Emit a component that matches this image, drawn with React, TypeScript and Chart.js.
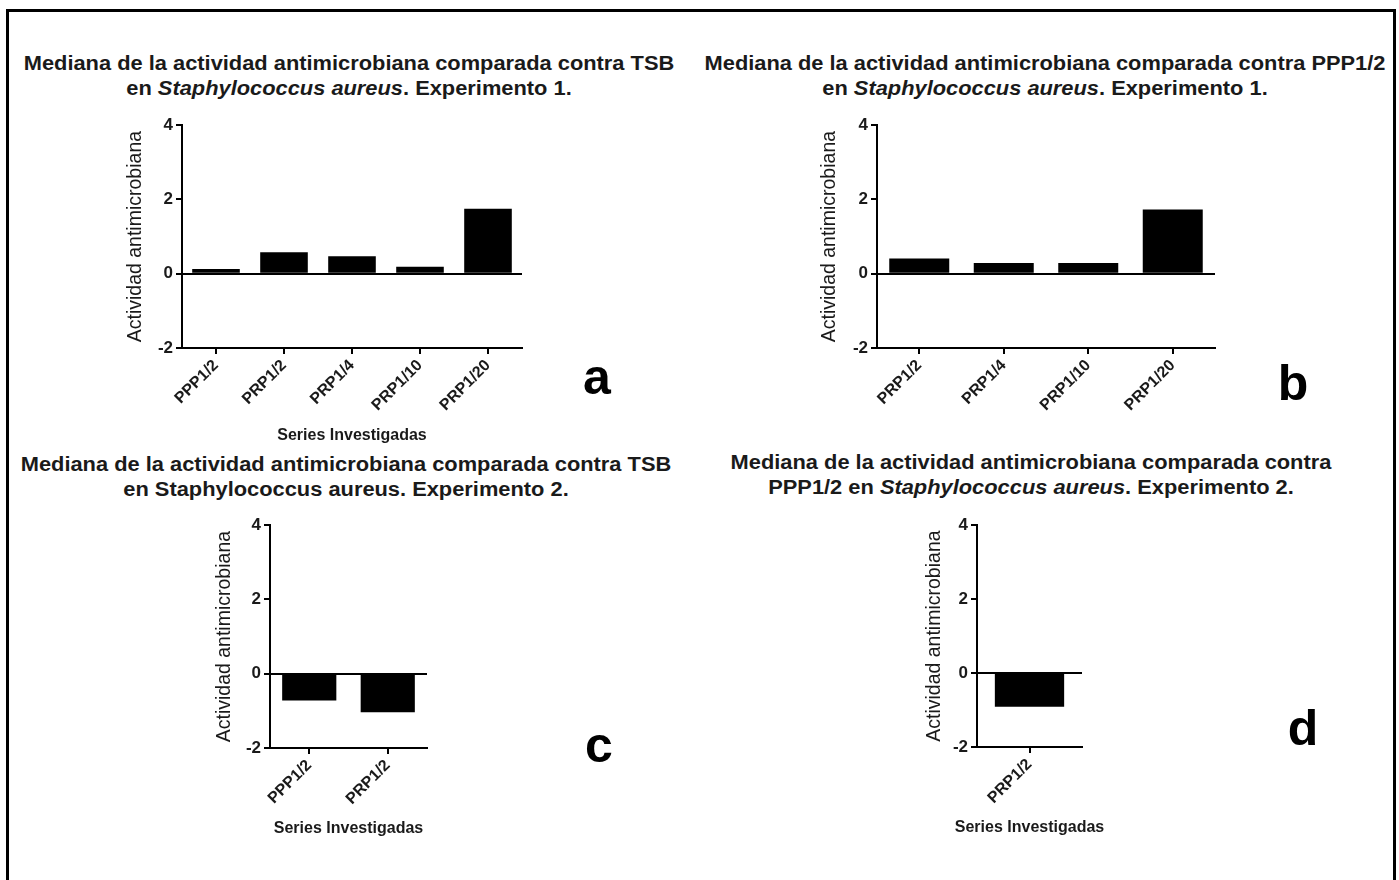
import React, { useEffect, useRef } from 'react';
import { Chart, registerables } from 'chart.js';

Chart.register(...registerables);

const FONT = '"Liberation Sans", Arial, Helvetica, sans-serif';
const TEXT = '#1a1a1a';

// ---- data ----
const catsA = ['PPP1/2', 'PRP1/2', 'PRP1/4', 'PRP1/10', 'PRP1/20'];
const valsA = [0.13, 0.58, 0.47, 0.19, 1.75];

const catsB = ['PRP1/2', 'PRP1/4', 'PRP1/10', 'PRP1/20'];
const valsB = [0.41, 0.29, 0.29, 1.73];

const catsC = ['PPP1/2', 'PRP1/2'];
const valsC = [-0.72, -1.04];

const catsD = ['PRP1/2'];
const valsD = [-0.91];

const yTicks = [-2, 0, 2, 4];
const yTitle = 'Actividad antimicrobiana';
const xTitle = 'Series Investigadas';

type PanelProps = {
  labels: string[];
  values: number[];
  left: number;
  right: number;
  top: number;
  bottom: number;
  showXTitle: boolean;
  xTitleY: number; // centre of x title, page coords
  xh: number;
  pr: number;
  yTitlePad: number;
  barPct: number;
};

const YW = 60;
const PT = 10;

function BarPanel(p: PanelProps) {
  const ref = useRef<HTMLCanvasElement>(null);
  const w = YW + (p.right - p.left) + p.pr;
  const h = PT + (p.bottom - p.top) + p.xh;
  const canvasTop = p.top - PT;

  useEffect(() => {
    const xTitlePlugin = {
      id: 'xTitleFree',
      afterDraw(chart: any) {
        if (!p.showXTitle) return;
        const ctx = chart.ctx;
        const ca = chart.chartArea;
        ctx.save();
        ctx.font = `bold 16px ${FONT}`;
        ctx.fillStyle = TEXT;
        ctx.textAlign = 'center';
        ctx.textBaseline = 'middle';
        ctx.fillText(xTitle, (ca.left + ca.right) / 2, p.xTitleY - canvasTop);
        ctx.restore();
      },
    };
    const chart = new Chart(ref.current as HTMLCanvasElement, {
      type: 'bar',
      data: {
        labels: p.labels,
        datasets: [
          {
            data: p.values,
            backgroundColor: '#000',
            borderWidth: 0,
            barPercentage: p.barPct,
            categoryPercentage: 1,
          },
        ],
      },
      options: {
        animation: false,
        responsive: false,
        maintainAspectRatio: false,
        devicePixelRatio: 1,
        layout: { padding: { top: PT, right: p.pr, left: 0, bottom: 0 } },
        plugins: { legend: { display: false }, tooltip: { enabled: false } },
        scales: {
          x: {
            grid: {
              offset: false,
              drawOnChartArea: false,
              drawTicks: true,
              tickLength: 6,
              color: '#000',
              lineWidth: 2,
            },
            border: { display: true, color: '#000', width: 2 },
            ticks: {
              minRotation: 45,
              maxRotation: 45,
              autoSkip: false,
              padding: 2,
              color: TEXT,
              font: { family: FONT, size: 16, weight: 'bold' },
            },
            title: { display: false },
            afterFit: (s: any) => {
              s.height = p.xh;
            },
          } as any,
          y: {
            min: yTicks[0],
            max: yTicks[yTicks.length - 1],
            afterBuildTicks: (s: any) => {
              s.ticks = yTicks.map((v) => ({ value: v }));
            },
            ticks: {
              stepSize: 2,
              padding: 3,
              color: TEXT,
              font: { family: FONT, size: 17, weight: 'bold' },
            },
            grid: {
              color: (c: any) => (c.tick && c.tick.value === 0 ? '#000' : 'rgba(0,0,0,0)'),
              tickColor: '#000',
              lineWidth: 2,
              tickLength: 6,
              drawTicks: true,
            },
            border: { display: true, color: '#000', width: 2 },
            title: {
              display: true,
              text: yTitle,
              color: TEXT,
              font: { family: FONT, size: 19.5, weight: 'normal' },
              padding: { top: p.yTitlePad, bottom: 0 },
            },
            afterFit: (s: any) => {
              s.width = YW;
            },
          } as any,
        },
      },
      plugins: [xTitlePlugin],
    });
    return () => chart.destroy();
  }, []);

  return (
    <canvas
      ref={ref}
      width={w}
      height={h}
      style={{ position: 'absolute', left: p.left - YW, top: canvasTop, width: w, height: h }}
    />
  );
}

function Title({ cx, cy, l1, l2 }: { cx: number; cy: number; l1: React.ReactNode; l2: React.ReactNode }) {
  return (
    <div
      style={{
        position: 'absolute',
        left: cx - 450,
        top: cy - 12.5,
        width: 900,
        textAlign: 'center',
        fontFamily: FONT,
        fontWeight: 'bold',
        fontSize: 19.5,
        lineHeight: '25.5px',
        color: TEXT,
        transform: 'scaleX(1.12)',
        transformOrigin: 'center',
        whiteSpace: 'nowrap',
      }}
    >
      <div>{l1}</div>
      <div>{l2}</div>
    </div>
  );
}

function Letter({ cx, cy, t }: { cx: number; cy: number; t: string }) {
  return (
    <div
      style={{
        position: 'absolute',
        left: cx - 40,
        top: cy - 30,
        width: 80,
        height: 60,
        lineHeight: '60px',
        textAlign: 'center',
        fontFamily: FONT,
        fontWeight: 'bold',
        fontSize: 50,
        color: '#000',
      }}
    >
      {t}
    </div>
  );
}

export default function App() {
  const staph = <i>Staphylococcus aureus</i>;
  return (
    <div
      style={{
        position: 'fixed',
        left: 0,
        top: 0,
        width: 1399,
        height: 880,
        background: '#fff',
        overflow: 'hidden',
      }}
    >
      <div
        style={{
          position: 'absolute',
          left: 6,
          top: 9,
          width: 1384,
          height: 900,
          border: '3px solid #000',
          borderBottom: 'none',
        }}
      />
      <Title
        cx={349}
        cy={63}
        l1="Mediana de la actividad antimicrobiana comparada contra TSB"
        l2={<>en {staph}. Experimento 1.</>}
      />
      <Title
        cx={1045}
        cy={63}
        l1="Mediana de la actividad antimicrobiana comparada contra PPP1/2"
        l2={<>en {staph}. Experimento 1.</>}
      />
      <Title
        cx={346}
        cy={464}
        l1="Mediana de la actividad antimicrobiana comparada contra TSB"
        l2="en Staphylococcus aureus. Experimento 2."
      />
      <Title
        cx={1031}
        cy={462}
        l1="Mediana de la actividad antimicrobiana comparada contra"
        l2={<>PPP1/2 en {staph}. Experimento 2.</>}
      />

      <BarPanel labels={catsA} values={valsA} left={182} right={522} top={122} bottom={348} showXTitle={true} xTitleY={436} xh={101} pr={12} yTitlePad={2} barPct={0.7} />
      <BarPanel labels={catsB} values={valsB} left={877} right={1215} top={122} bottom={348} showXTitle={false} xTitleY={436} xh={101} pr={12} yTitlePad={1} barPct={0.71} />
      <BarPanel labels={catsC} values={valsC} left={270} right={427} top={522} bottom={748} showXTitle={true} xTitleY={829} xh={96} pr={30} yTitlePad={3} barPct={0.69} />
      <BarPanel labels={catsD} values={valsD} left={977} right={1082} top={522} bottom={747} showXTitle={true} xTitleY={828} xh={94} pr={60} yTitlePad={6} barPct={0.66} />

      <Letter cx={597} cy={377} t="a" />
      <Letter cx={1293} cy={383} t="b" />
      <Letter cx={599} cy={745} t="c" />
      <Letter cx={1303} cy={728} t="d" />
    </div>
  );
}
